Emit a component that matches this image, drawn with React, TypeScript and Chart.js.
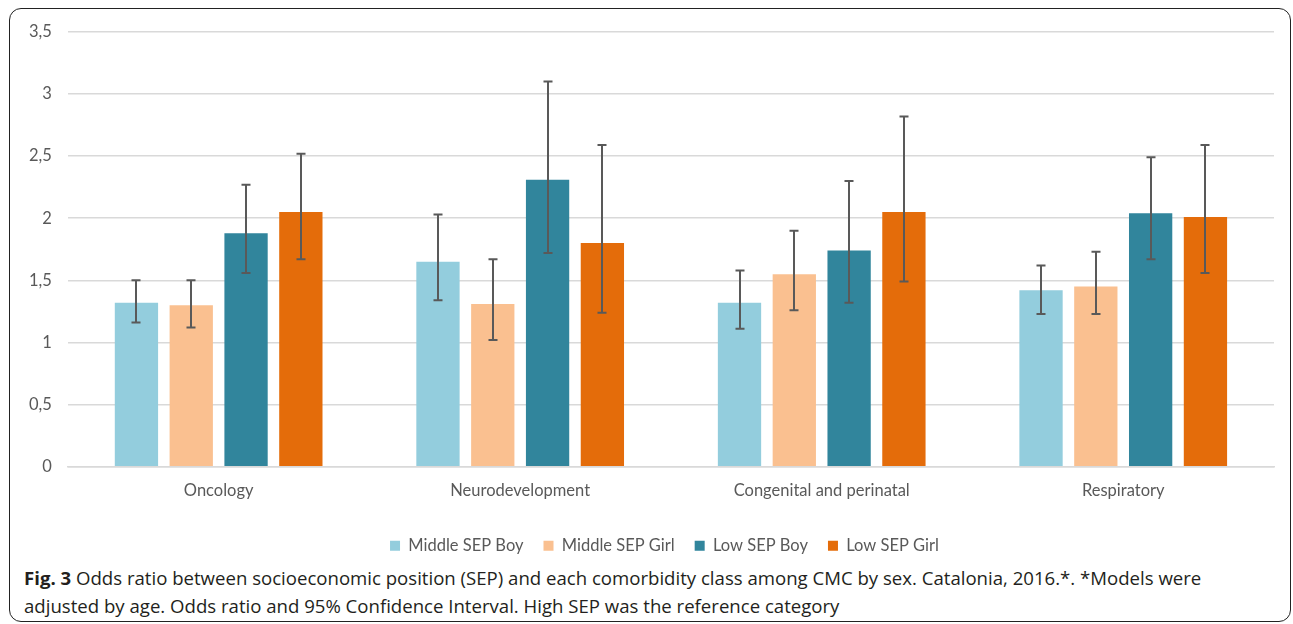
import React, { useEffect, useRef } from "react";
import { Chart, registerables } from "chart.js";

Chart.register(...registerables);

const categories = ["Oncology", "Neurodevelopment", "Congenital and perinatal", "Respiratory"];
const seriesNames = ["Middle SEP Boy", "Middle SEP Girl", "Low SEP Boy", "Low SEP Girl"];
const seriesColors = ["#93CDDD", "#FAC090", "#31859C", "#E46C0A"];

const middleBoy = [1.32, 1.65, 1.32, 1.42];
const middleBoyLow = [1.16, 1.34, 1.11, 1.23];
const middleBoyHigh = [1.5, 2.03, 1.58, 1.62];

const middleGirl = [1.3, 1.31, 1.55, 1.45];
const middleGirlLow = [1.12, 1.02, 1.26, 1.23];
const middleGirlHigh = [1.5, 1.67, 1.9, 1.73];

const lowBoy = [1.88, 2.31, 1.74, 2.04];
const lowBoyLow = [1.56, 1.72, 1.32, 1.67];
const lowBoyHigh = [2.27, 3.1, 2.3, 2.49];

const lowGirl = [2.05, 1.8, 2.05, 2.01];
const lowGirlLow = [1.67, 1.24, 1.49, 1.56];
const lowGirlHigh = [2.52, 2.59, 2.82, 2.59];

const yTicks = [0, 0.5, 1, 1.5, 2, 2.5, 3, 3.5];

const values = [middleBoy, middleGirl, lowBoy, lowGirl];
const lows = [middleBoyLow, middleGirlLow, lowBoyLow, lowGirlLow];
const highs = [middleBoyHigh, middleGirlHigh, lowBoyHigh, lowGirlHigh];

const errorBarPlugin = {
  id: "errorBars",
  afterLayout(chart: any) {
    if (chart.legend) {
      chart.legend.left += 21;
      chart.legend.right += 21;
    }
  },
  afterDatasetsDraw(chart: any) {
    const ctx = chart.ctx;
    const y = chart.scales.y;
    ctx.save();
    ctx.strokeStyle = "#595959";
    ctx.lineWidth = 2;
    chart.data.datasets.forEach((ds: any, di: number) => {
      const meta = chart.getDatasetMeta(di);
      meta.data.forEach((bar: any, i: number) => {
        const x = Math.round(bar.x);
        const yl = y.getPixelForValue(ds.errLow[i]);
        const yh = y.getPixelForValue(ds.errHigh[i]);
        ctx.beginPath();
        ctx.moveTo(x, yh);
        ctx.lineTo(x, yl);
        ctx.moveTo(x - 4.5, yh);
        ctx.lineTo(x + 4.5, yh);
        ctx.moveTo(x - 4.5, yl);
        ctx.lineTo(x + 4.5, yl);
        ctx.stroke();
      });
    });
    ctx.restore();
  },
};

export default function App() {
  const canvasRef = useRef<HTMLCanvasElement | null>(null);

  useEffect(() => {
    document.body.style.margin = "0";
    const canvas = canvasRef.current;
    if (!canvas) return;
    const chart = new Chart(canvas, {
      type: "bar",
      data: {
        labels: categories,
        datasets: seriesNames.map((name, k) => ({
          label: name,
          data: values[k],
          errLow: lows[k],
          errHigh: highs[k],
          backgroundColor: seriesColors[k],
          borderWidth: 0,
          categoryPercentage: 0.727,
          barPercentage: 0.79,
        })) as any,
      },
      options: {
        animation: false,
        responsive: false,
        maintainAspectRatio: false,
        layout: { padding: { top: 3, left: 0, right: 16, bottom: 0 } },
        plugins: {
          tooltip: { enabled: false },
          legend: {
            position: "bottom",
            labels: {
              boxWidth: 10,
              boxHeight: 10,
              padding: 20,
              color: "#595959",
              font: { family: "Lato", size: 16.5 },
            },
          },
        },
        scales: {
          x: {
            grid: { display: false, drawTicks: false },
            border: { display: true, color: "#d9d9d9", width: 1.5 },
            ticks: { color: "#595959", font: { family: "Lato", size: 16.5 }, padding: 14 },
            afterFit: (axis: any) => {
              axis.height += 3;
            },
          },
          y: {
            min: 0,
            max: 3.5,
            afterBuildTicks: (axis: any) => {
              axis.ticks = yTicks.map((v) => ({ value: v }));
            },
            grid: { color: "#d9d9d9", lineWidth: 1.5, drawTicks: false },
            border: { display: false },
            ticks: {
              color: "#595959",
              font: { family: "Lato", size: 16.5 },
              padding: 16,
              callback: (v: any) => String(v).replace(".", ","),
            },
          },
        },
      },
      plugins: [errorBarPlugin],
    });
    return () => chart.destroy();
  }, []);

  return (
    <div style={{ position: "relative", width: 1293, height: 624, background: "#fff", overflow: "hidden" }}>
      <div
        style={{
          position: "absolute",
          left: 9,
          top: 8,
          width: 1282,
          height: 614,
          border: "1.5px solid #222",
          borderRadius: 12,
          boxSizing: "border-box",
        }}
      />
      <canvas
        ref={canvasRef}
        width={1277}
        height={558}
        style={{ position: "absolute", left: 13, top: 6, width: 1277, height: 558 }}
      />
      <div
        style={{
          position: "absolute",
          left: 24,
          top: 564,
          width: 1260,
          fontFamily: "'Open Sans', sans-serif",
          fontSize: 18.6,
          lineHeight: "28px",
          color: "#231f20",
          whiteSpace: "nowrap",
        }}
      >
        <b>Fig. 3</b> Odds ratio between socioeconomic position (SEP) and each comorbidity class among CMC by sex. Catalonia,
        2016.*. *Models were
        <br />
        adjusted by age. Odds ratio and 95% Confidence Interval. High SEP was the reference category
      </div>
    </div>
  );
}
